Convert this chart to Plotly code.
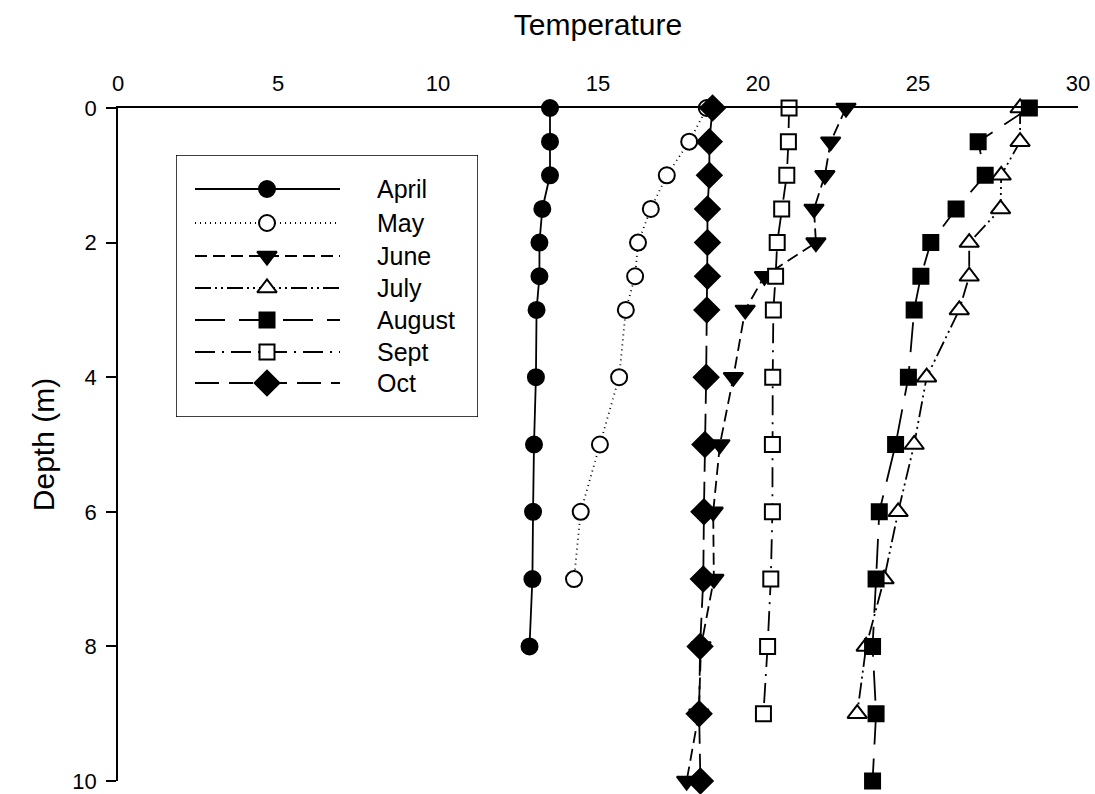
import plotly.graph_objects as go

depth = [0, 0.5, 1, 1.5, 2, 2.5, 3, 4, 5, 6, 7, 8, 9, 10]

april = [13.5, 13.5, 13.5, 13.26, 13.17, 13.17, 13.08, 13.06, 13.0, 12.97, 12.95, 12.86]
may = [18.4, 17.85, 17.15, 16.65, 16.25, 16.16, 15.87, 15.66, 15.06, 14.46, 14.25]
june = [22.75, 22.27, 22.09, 21.75, 21.81, 20.2, 19.6, 19.23, 18.81, 18.6, 18.62, 18.22, 18.15, 17.77]
july = [28.19, 28.19, 27.6, 27.58, 26.6, 26.6, 26.29, 25.27, 24.88, 24.38, 23.94, 23.38, 23.1]
august = [28.48, 26.88, 27.1, 26.19, 25.4, 25.09, 24.88, 24.7, 24.3, 23.79, 23.69, 23.58, 23.69, 23.58]
sept = [20.97, 20.95, 20.9, 20.74, 20.6, 20.55, 20.48, 20.46, 20.45, 20.45, 20.4, 20.3, 20.17]
october = [18.58, 18.48, 18.48, 18.42, 18.42, 18.42, 18.4, 18.38, 18.34, 18.31, 18.29, 18.19, 18.16, 18.2]

series_names = ["April", "May", "June", "July", "August", "Sept", "Oct"]
series_values = [april, may, june, july, august, sept, october]

x_ticks = [0, 5, 10, 15, 20, 25, 30]
y_ticks = [0, 2, 4, 6, 8, 10]

# styles
styles = {
    "April": dict(dash="solid", symbol="circle", fill="black", size=16),
    "May": dict(dash="1px,4px", symbol="circle", fill="white", size=16),
    "June": dict(dash="12px,6px", symbol="triangle-down", fill="black", size=17),
    "July": dict(dash="16px,4px,2px,4px,2px,4px", symbol="triangle-up", fill="white", size=17),
    "August": dict(dash="30px,14px", symbol="square", fill="black", size=15),
    "Sept": dict(dash="20px,7px,2px,7px", symbol="square", fill="white", size=15),
    "Oct": dict(dash="24px,10px", symbol="diamond", fill="black", size=19),
}

FONT = "Liberation Sans, Arial, sans-serif"
fig = go.Figure()

for name, vals in zip(series_names, series_values):
    st = styles[name]
    fig.add_trace(go.Scatter(
        x=vals, y=depth[:len(vals)], mode="lines+markers", name=name,
        line=dict(color="black", width=1.8, dash=st["dash"]),
        marker=dict(symbol=st["symbol"], size=st["size"], color=st["fill"],
                    line=dict(color="black", width=2)),
        showlegend=False, cliponaxis=False,
    ))

# custom legend drawn in its own small axes (pixel-like units)
leg_rows = [34, 68, 101, 133, 165, 197, 228]
for name, ry in zip(series_names, leg_rows):
    st = styles[name]
    fig.add_trace(go.Scatter(
        x=[19, 164], y=[ry, ry], mode="lines", xaxis="x2", yaxis="y2",
        line=dict(color="black", width=1.8, dash=st["dash"]), showlegend=False, hoverinfo="skip"))
    fig.add_trace(go.Scatter(
        x=[91], y=[ry], mode="markers", xaxis="x2", yaxis="y2",
        marker=dict(symbol=st["symbol"], size=st["size"], color=st["fill"], line=dict(color="black", width=2)),
        showlegend=False, hoverinfo="skip"))
    fig.add_annotation(x=199, y=ry, xref="x2", yref="y2", text=name, showarrow=False,
                       xanchor="left", yanchor="middle", font=dict(size=25, color="black", family=FONT))

W, H = 1095, 794
L, R, T, B = 118, 1078, 108, 781
pw, ph = R - L, B - T
lx0, lx1, ly0, ly1 = 176, 478, 155, 417

fig.add_shape(type="rect", xref="x2", yref="y2", x0=0, x1=lx1 - lx0, y0=0, y1=ly1 - ly0,
              line=dict(color="black", width=1.5), fillcolor="rgba(0,0,0,0)")

fig.update_layout(
    width=W, height=H,
    margin=dict(l=L, r=W - R, t=T, b=H - B, autoexpand=False),
    plot_bgcolor="white", paper_bgcolor="white",
    font=dict(family=FONT, color="black", size=22),
    xaxis=dict(side="top", range=[0, 30], tickvals=x_ticks, showline=True, linecolor="black",
               linewidth=1.5, ticks="", showgrid=False, zeroline=False, automargin=False,
               tickfont=dict(size=22), ticklabelstandoff=6,
               title=dict(text="Temperature", font=dict(size=30), standoff=27)),
    yaxis=dict(range=[10, 0], tickvals=y_ticks, showline=True, linecolor="black", linewidth=1.5,
               ticks="outside", ticklen=10, tickwidth=1.5, tickcolor="black", automargin=False,
               showgrid=False, zeroline=False, tickfont=dict(size=22), ticklabelstandoff=5,
               title=dict(text="Depth (m)", font=dict(size=30), standoff=9)),
    xaxis2=dict(domain=[(lx0 - L) / pw, (lx1 - L) / pw], range=[0, lx1 - lx0], visible=False,
                anchor="y2", fixedrange=True, automargin=False),
    yaxis2=dict(domain=[(B - ly1) / ph, (B - ly0) / ph], range=[ly1 - ly0, 0], visible=False,
                anchor="x2", fixedrange=True, automargin=False),
)

fig.write_html("out.html", config={"displayModeBar": False},
               post_script="document.body.style.margin='0px';document.body.style.overflow='hidden';")
